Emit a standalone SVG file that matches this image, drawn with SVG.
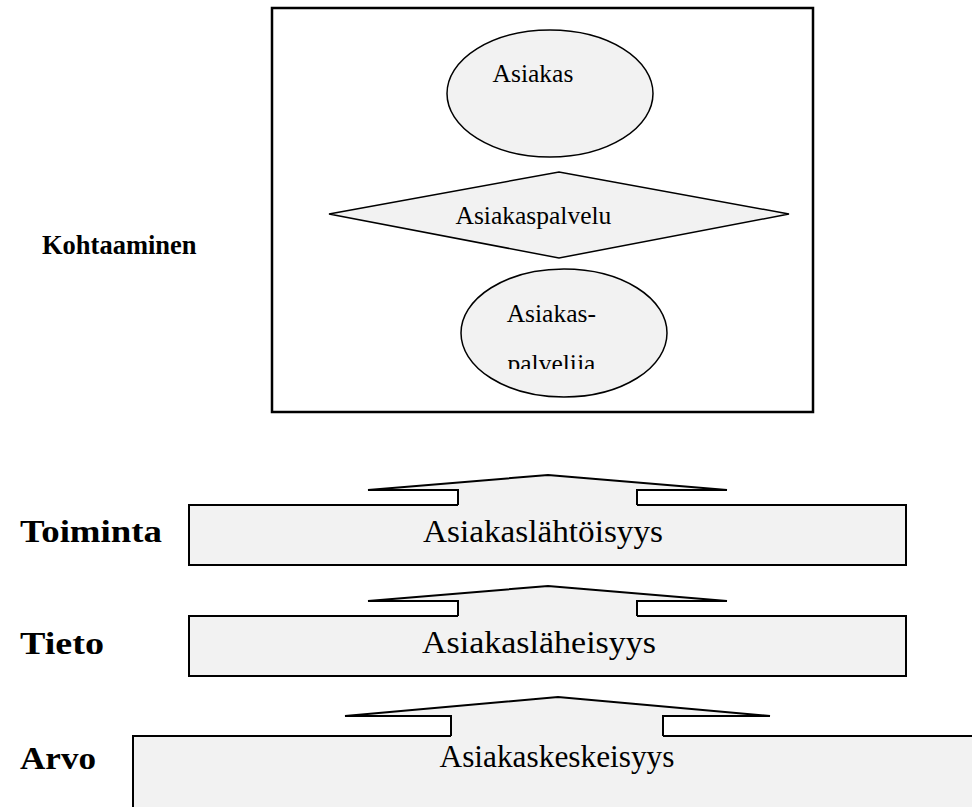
<svg xmlns="http://www.w3.org/2000/svg" width="972" height="807" viewBox="0 0 972 807">
<style>
.shape{fill:#f2f2f2;stroke:#000;stroke-width:1.5}
.box{fill:#f2f2f2;stroke:#000;stroke-width:2}
.arrfill{fill:#f2f2f2;stroke:none}
.arrline{fill:none;stroke:#000;stroke-width:2;stroke-linejoin:miter}
.lbl{font-family:"Liberation Serif","Times New Roman",serif;font-weight:bold;font-size:32px;fill:#000}
.lbl2{font-family:"Liberation Serif","Times New Roman",serif;font-weight:bold;font-size:26.5px;fill:#000}
.in{font-family:"Liberation Serif","Times New Roman",serif;font-size:25.5px;fill:#000}
.bt{font-family:"Liberation Serif","Times New Roman",serif;font-size:31px;fill:#000;text-anchor:middle}
</style>
<defs>
<clipPath id="clipPal"><rect x="440" y="260" width="240" height="109"/></clipPath>
</defs>
<rect width="972" height="807" fill="#fff"/>
<g id="kohtaaminen-frame">
<rect x="272" y="8" width="541" height="404" fill="#fff" stroke="#000" stroke-width="2.5"/>
</g>
<g id="asiakas">
<ellipse class="shape" cx="550" cy="93.5" rx="103" ry="63.5"/>
<text class="in" x="492.6" y="82">Asiakas</text>
</g>
<g id="asiakaspalvelu">
<polygon class="shape" points="329,214 559,172 789,214 559,258"/>
<text class="in" x="455.5" y="224">Asiakaspalvelu</text>
</g>
<g id="asiakaspalvelija">
<ellipse class="shape" cx="564" cy="333" rx="103" ry="64"/>
<text class="in" x="506.7" y="322">Asiakas-</text>
<text class="in" x="507.5" y="372" clip-path="url(#clipPal)">palvelija</text>
</g>
<g id="labels">
<text class="lbl2" x="42" y="254">Kohtaaminen</text>
<text class="lbl" x="20" y="542" textLength="142" lengthAdjust="spacingAndGlyphs">Toiminta</text>
<text class="lbl" x="20" y="654" textLength="84" lengthAdjust="spacingAndGlyphs">Tieto</text>
<text class="lbl" x="20" y="769" textLength="76" lengthAdjust="spacingAndGlyphs">Arvo</text>
</g>
<g id="toiminta">
<rect class="box" x="189" y="505" width="717" height="60"/>
<text class="bt" x="543" y="542" textLength="240" lengthAdjust="spacingAndGlyphs">Asiakaslähtöisyys</text>
</g>
<g id="tieto">
<rect class="box" x="189" y="616" width="717" height="60"/>
<text class="bt" x="539" y="653" textLength="234" lengthAdjust="spacingAndGlyphs">Asiakasläheisyys</text>
</g>
<g id="arvo">
<rect class="box" x="133" y="736" width="860" height="100"/>
<text class="bt" x="557" y="767" textLength="235" lengthAdjust="spacingAndGlyphs">Asiakaskeskeisyys</text>
</g>
<g id="connectors">
<polygon class="arrfill" points="368,490 548,475 727,490 637,490 637,507 458,507 458,490"/>
<polyline class="arrline" points="458,505 458,490 368,490 548,475 727,490 637,490 637,505"/>
<polygon class="arrfill" points="368,601 548,586 727,601 637,601 637,618 458,618 458,601"/>
<polyline class="arrline" points="458,616 458,601 368,601 548,586 727,601 637,601 637,616"/>
<polygon class="arrfill" points="345,716 558,697 770,716 663,716 663,738 451,738 451,716"/>
<polyline class="arrline" points="451,736 451,716 345,716 558,697 770,716 663,716 663,736"/>
</g>
</svg>
